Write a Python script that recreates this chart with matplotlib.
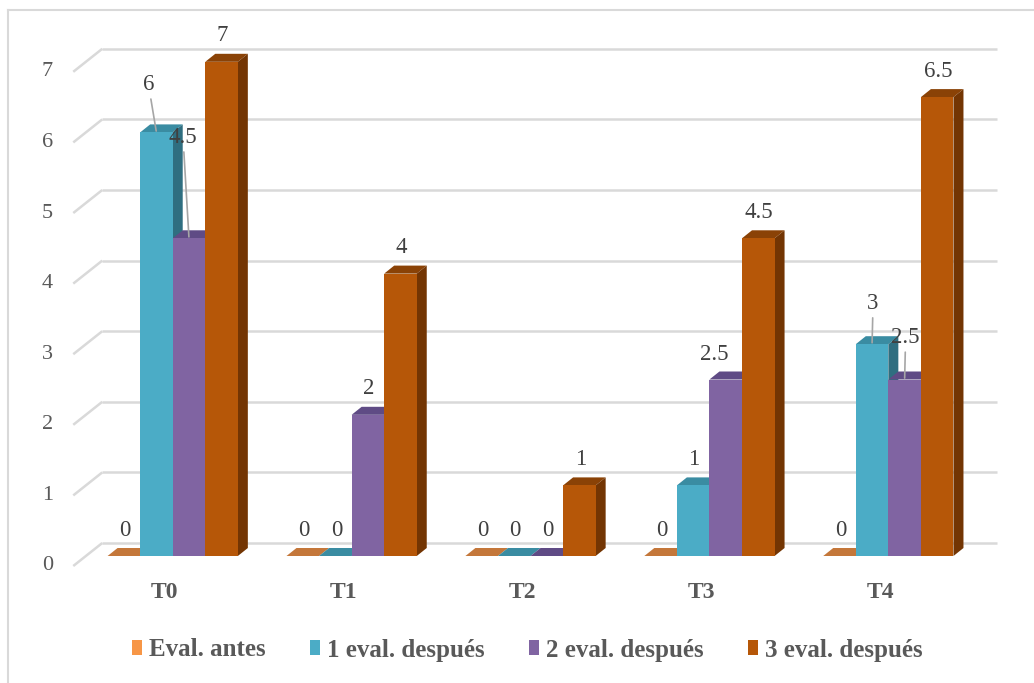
import matplotlib
matplotlib.use("Agg")
import matplotlib.pyplot as plt
from matplotlib.patches import Polygon, Patch
from matplotlib.lines import Line2D

# ---- data ----
categories = ["T0", "T1", "T2", "T3", "T4"]
series_names = ["Eval. antes", "1 eval. después", "2 eval. después", "3 eval. después"]
eval_antes = [0, 0, 0, 0, 0]
eval_1_despues = [6, 0, 0, 1, 3]
eval_2_despues = [4.5, 2, 0, 2.5, 2.5]
eval_3_despues = [7, 4, 1, 4.5, 6.5]
y_ticks = [0, 1, 2, 3, 4, 5, 6, 7]

# ---- styling ----
front_colors = ["#F79646", "#4BACC6", "#8064A2", "#B65708"]
top_colors = ["#C4773A", "#3A8CA2", "#5F4B85", "#8A4206"]
side_colors = ["#A9652C", "#2F6E80", "#4E3D6E", "#733503"]
grid_color = "#D9D9D9"
text_color = "#404040"
axis_text_color = "#595959"
SERIF = ["Liberation Serif", "DejaVu Serif"]

W_PX, H_PX, DPI = 1034, 683, 100
fig = plt.figure(figsize=(W_PX / DPI, H_PX / DPI), dpi=DPI)
fig.patch.set_facecolor("white")

# plot plane placement (pixels from the left / from the top)
AX_L, AX_R = 60, 1010
AX_BOT, AX_TOP = 556, 26.5
ax = fig.add_axes([AX_L / W_PX, (H_PX - AX_BOT) / H_PX,
                   (AX_R - AX_L) / W_PX, (AX_BOT - AX_TOP) / H_PX])
XMIN, XMAX = -0.63, 4.68
YMIN, YMAX = 0.0, 7.5
ax.set_xlim(XMIN, XMAX)
ax.set_ylim(YMIN, YMAX)
ax.axis("off")

sx = (AX_R - AX_L) / (XMAX - XMIN)   # pixels per x unit
sy = (AX_BOT - AX_TOP) / (YMAX - YMIN)  # pixels per y unit


def shift(dx_px, dy_px):
    """Convert a pixel offset (right, up) to data units."""
    return dx_px / sx, dy_px / sy


BAR_W = 0.182
bdx, bdy = shift(10, 8)        # bar depth
wdx, wdy = shift(19, 13)       # back wall relative to bar front plane
fdx, fdy = shift(-10, -10)     # front plane relative to bar front plane

# ---- back wall gridlines with perspective edge ----
x_lo, x_hi = -0.5, len(categories) - 0.5
for v in y_ticks:
    ax.plot([x_lo + wdx, x_hi + wdx], [v + wdy, v + wdy], color=grid_color,
            lw=1.8, zorder=1, clip_on=False, solid_capstyle="butt")
    ax.plot([x_lo + wdx, x_lo + fdx], [v + wdy, v + fdy], color=grid_color,
            lw=1.8, zorder=1, clip_on=False, solid_capstyle="butt")
    ax.annotate(f"{v}", xy=(x_lo + fdx, v + fdy), xytext=(-26, 0),
                textcoords="offset pixels", ha="center", va="center",
                fontsize=16, family=SERIF, color=axis_text_color,
                annotation_clip=False)

# ---- 3D columns ----
values = [eval_antes, eval_1_despues, eval_2_despues, eval_3_despues]

# label offsets in pixels (right, up) from the top centre of each bar
label_offsets = {
    (0, 1): (-8, 48),
    (0, 2): (-6, 101),
    (3, 2): (-11, 25),
    (4, 1): (1, 41),
    (4, 2): (1, 42),
}
leader_labels = {(0, 1), (0, 2), (4, 1), (4, 2)}

for i in range(len(categories)):
    for j, series in enumerate(values):
        h = series[i]
        x0 = i + (j - 2) * BAR_W
        x1 = x0 + BAR_W
        z = 10 + i * 10 + j * 2
        ax.bar(x0, h, width=BAR_W, align="edge", color=front_colors[j],
               linewidth=0, zorder=z + 1)
        top = Polygon([(x0, h), (x1, h), (x1 + bdx, h + bdy), (x0 + bdx, h + bdy)],
                      closed=True, facecolor=top_colors[j], edgecolor="none", zorder=z)
        ax.add_patch(top)
        if h > 0:
            side = Polygon([(x1, 0), (x1 + bdx, bdy), (x1 + bdx, h + bdy), (x1, h)],
                           closed=True, facecolor=side_colors[j], edgecolor="none",
                           zorder=z)
            ax.add_patch(side)

        off = label_offsets.get((i, j), (1, 26))
        kw = {}
        if (i, j) in leader_labels:
            kw["arrowprops"] = dict(arrowstyle="-", color="#A6A6A6", lw=1.2,
                                    shrinkA=1, shrinkB=1)
        ax.annotate(f"{h:g}", xy=(x0 + BAR_W / 2, h), xytext=off,
                    textcoords="offset pixels", ha="center", va="center",
                    fontsize=16.5, family=SERIF, color=text_color,
                    zorder=200, annotation_clip=False, **kw)

# ---- category labels ----
for i, cat in enumerate(categories):
    ax.annotate(cat, xy=(i, 0), xytext=(-8, -37), textcoords="offset pixels",
                ha="center", va="center", fontsize=17, fontweight="bold",
                family=SERIF, color=axis_text_color, annotation_clip=False)

# ---- legend ----
handles = [Patch(facecolor=c, edgecolor="none") for c in front_colors]
fig.legend(handles, series_names, loc="center",
           bbox_to_anchor=(0.51, 1 - 650 / H_PX), ncol=4, frameon=False,
           prop=dict(family=SERIF, weight="bold", size=18),
           handlelength=0.4, handleheight=0.55, handletextpad=0.3,
           columnspacing=1.75, labelcolor=axis_text_color)

# ---- chart area border ----
bx, by = 8 / W_PX, 1 - 10 / H_PX
fig.add_artist(Line2D([bx, bx], [0, by], transform=fig.transFigure,
                      color=grid_color, lw=1.5))
fig.add_artist(Line2D([bx, 1], [by, by], transform=fig.transFigure,
                      color=grid_color, lw=1.5))

fig.savefig("out.png", dpi=DPI, facecolor="white")
